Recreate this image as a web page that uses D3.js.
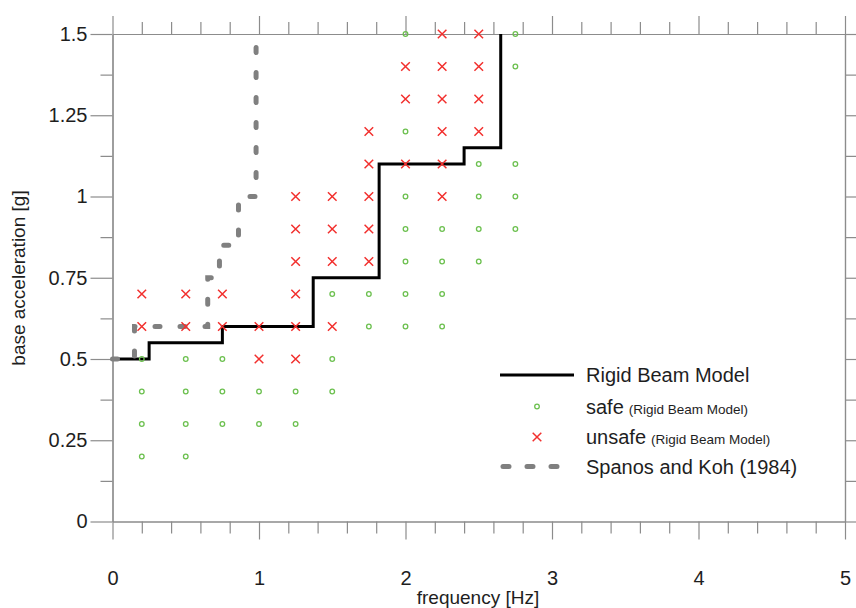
<!DOCTYPE html>
<html>
<head>
<meta charset="utf-8">
<script src="https://cdn.jsdelivr.net/npm/d3@7"></script>
<style>
  html, body { margin: 0; padding: 0; background: #fff; }
  svg { display: block; font-family: "Liberation Sans", Arial, sans-serif; }
</style>
</head>
<body>
<svg id="chart" width="856" height="608"></svg>
<script>
// ---- data ----
const gridFreqs = [0.2, 0.5, 0.75, 1.0, 1.25, 1.5, 1.75, 2.0, 2.25, 2.5, 2.75];
const safeAcc = [
  [0.2, 0.3, 0.4, 0.5],
  [0.2, 0.3, 0.4, 0.5],
  [0.3, 0.4, 0.5],
  [0.3, 0.4],
  [0.3, 0.4],
  [0.4, 0.5, 0.7],
  [0.6, 0.7],
  [0.6, 0.7, 0.8, 0.9, 1.0, 1.2, 1.5],
  [0.6, 0.7, 0.8, 0.9],
  [0.8, 0.9, 1.0, 1.1],
  [0.9, 1.0, 1.1, 1.4, 1.5]
];
const unsafeAcc = [
  [0.6, 0.7],
  [0.6, 0.7],
  [0.6, 0.7],
  [0.5, 0.6],
  [0.5, 0.6, 0.7, 0.8, 0.9, 1.0],
  [0.6, 0.8, 0.9, 1.0],
  [0.8, 0.9, 1.0, 1.1, 1.2],
  [1.1, 1.3, 1.4],
  [1.0, 1.1, 1.2, 1.3, 1.4, 1.5],
  [1.2, 1.3, 1.4, 1.5],
  []
];
const rigidFreq = [0, 0.25, 0.75, 1.37, 1.82, 2.4, 2.65];
const rigidAcc  = [0.5, 0.55, 0.6, 0.75, 1.1, 1.15, 1.5];
const spanosFreq = [0, 0.15, 0.65, 0.73, 0.86, 0.98];
const spanosAcc  = [0.5, 0.6, 0.75, 0.85, 1.0, 1.46];
const xMajorTicks = [0, 1, 2, 3, 4, 5];
const xMinorTicks = [0.2,0.4,0.6,0.8,1.2,1.4,1.6,1.8,2.2,2.4,2.6,2.8,3.2,3.4,3.6,3.8,4.2,4.4,4.6,4.8];
const yMajorTicks = [0, 0.25, 0.5, 0.75, 1, 1.25, 1.5];
const yMajorLabels = ["0", "0.25", "0.5", "0.75", "1", "1.25", "1.5"];
const yMinorTicks = [0.125, 0.375, 0.625, 0.875, 1.125, 1.375];
const legendLabels = ["Rigid Beam Model", "safe", "unsafe", "Spanos and Koh (1984)"];
const legendSub = "(Rigid Beam Model)";

// ---- layout ----
const svg = d3.select("#chart");
const plotL = 112.5, plotR = 845, plotT = 34, plotB = 521.5;
const x = d3.scaleLinear().domain([0, 5]).range([plotL, plotR]);
const y = d3.scaleLinear().domain([0, 1.5]).range([plotB, plotT]);
const axisColor = "#8c8c8c";
const textColor = "#1e1e1e";

function styleAxis(g) {
  g.selectAll("path.domain").attr("stroke", axisColor).attr("stroke-width", 1.2);
  g.selectAll(".tick line").attr("stroke", axisColor).attr("stroke-width", 1.2);
  g.selectAll(".tick text").attr("fill", textColor).style("font-size", "20px")
    .style("font-family", '"Liberation Sans", Arial, sans-serif');
}

// minor ticks
svg.append("g").attr("transform", `translate(0,${plotB})`)
  .call(d3.axisBottom(x).tickValues(xMinorTicks).tickSize(12).tickSizeOuter(0).tickFormat(""))
  .call(styleAxis);
svg.append("g").attr("transform", `translate(0,${plotT})`)
  .call(d3.axisTop(x).tickValues(xMinorTicks).tickSize(12).tickSizeOuter(0).tickFormat(""))
  .call(styleAxis);
svg.append("g").attr("transform", `translate(${plotL},0)`)
  .call(d3.axisLeft(y).tickValues(yMinorTicks).tickSize(12).tickSizeOuter(0).tickFormat(""))
  .call(styleAxis);
svg.append("g").attr("transform", `translate(${plotR},0)`)
  .call(d3.axisRight(y).tickValues(yMinorTicks).tickSize(12).tickSizeOuter(0).tickFormat(""))
  .call(styleAxis);

// major ticks
svg.append("g").attr("transform", `translate(0,${plotB})`)
  .call(d3.axisBottom(x).tickValues(xMajorTicks).tickSize(18).tickSizeOuter(0).tickPadding(31).tickFormat(d3.format("d")))
  .call(styleAxis);
svg.append("g").attr("transform", `translate(0,${plotT})`)
  .call(d3.axisTop(x).tickValues(xMajorTicks).tickSize(18).tickSizeOuter(0).tickFormat(""))
  .call(styleAxis);
svg.append("g").attr("transform", `translate(${plotL},0)`)
  .call(d3.axisLeft(y).tickValues(yMajorTicks).tickSize(22).tickSizeOuter(0).tickPadding(3)
    .tickFormat((d, i) => yMajorLabels[i]))
  .call(styleAxis);
svg.append("g").attr("transform", `translate(${plotR},0)`)
  .call(d3.axisRight(y).tickValues(yMajorTicks).tickSize(18).tickSizeOuter(0).tickFormat(""))
  .call(styleAxis);

// axis titles
svg.append("text").attr("x", 478).attr("y", 604).attr("text-anchor", "middle")
  .attr("fill", textColor).style("font-size", "19px").text("frequency [Hz]");
svg.append("text").attr("transform", "translate(25,278) rotate(-90)").attr("text-anchor", "middle")
  .attr("fill", textColor).style("font-size", "19px").text("base acceleration [g]");

// lines
const stepLine = d3.line().x(d => x(d[0])).y(d => y(d[1])).curve(d3.curveStepAfter);
const rigidData = rigidFreq.map((f, i) => [f, rigidAcc[i]]);
const spanosData = spanosFreq.map((f, i) => [f, spanosAcc[i]]);
svg.append("path").datum(rigidData).attr("d", stepLine)
  .attr("fill", "none").attr("stroke", "#000").attr("stroke-width", 3);
svg.append("path").datum(spanosData).attr("d", stepLine)
  .attr("fill", "none").attr("stroke", "#808080").attr("stroke-width", 5)
  .attr("stroke-linecap", "round").attr("stroke-dasharray", "5,20");

// markers
const safePts = gridFreqs.flatMap((f, i) => safeAcc[i].map(a => [f, a]));
const unsafePts = gridFreqs.flatMap((f, i) => unsafeAcc[i].map(a => [f, a]));
const safeColor = "#6cc04f", unsafeColor = "#f2302e";
svg.append("g").selectAll("circle").data(safePts).join("circle")
  .attr("cx", d => x(d[0])).attr("cy", d => y(d[1])).attr("r", 2.3)
  .attr("fill", "none").attr("stroke", safeColor).attr("stroke-width", 1.3);
const xs = 4.3;
svg.append("g").selectAll("path").data(unsafePts).join("path")
  .attr("d", d => {
    const cx = x(d[0]), cy = y(d[1]);
    return `M${cx - xs},${cy - xs}L${cx + xs},${cy + xs}M${cx - xs},${cy + xs}L${cx + xs},${cy - xs}`;
  })
  .attr("fill", "none").attr("stroke", unsafeColor).attr("stroke-width", 1.5);

// legend
const lg = svg.append("g");
const rowY = [375, 406.5, 437, 466.5];
const textX = 586;
lg.append("line").attr("x1", 500).attr("x2", 574).attr("y1", rowY[0]).attr("y2", rowY[0])
  .attr("stroke", "#000").attr("stroke-width", 3);
lg.append("circle").attr("cx", 537).attr("cy", rowY[1]).attr("r", 2.3)
  .attr("fill", "none").attr("stroke", safeColor).attr("stroke-width", 1.3);
lg.append("path").attr("d", `M${537 - xs},${rowY[2] - xs}L${537 + xs},${rowY[2] + xs}M${537 - xs},${rowY[2] + xs}L${537 + xs},${rowY[2] - xs}`)
  .attr("stroke", unsafeColor).attr("stroke-width", 1.5);
lg.append("line").attr("x1", 503).attr("x2", 574).attr("y1", rowY[3]).attr("y2", rowY[3])
  .attr("stroke", "#808080").attr("stroke-width", 5).attr("stroke-linecap", "round")
  .attr("stroke-dasharray", "6,18");
legendLabels.forEach((lab, i) => {
  const t = lg.append("text").attr("x", textX).attr("y", rowY[i]).attr("dy", "0.35em")
    .attr("fill", textColor).style("font-size", "20px");
  t.append("tspan").text(lab);
  if (i === 1 || i === 2) {
    t.append("tspan").attr("dx", 5).style("font-size", "13.5px").text(legendSub);
  }
});
</script>
</body>
</html>
